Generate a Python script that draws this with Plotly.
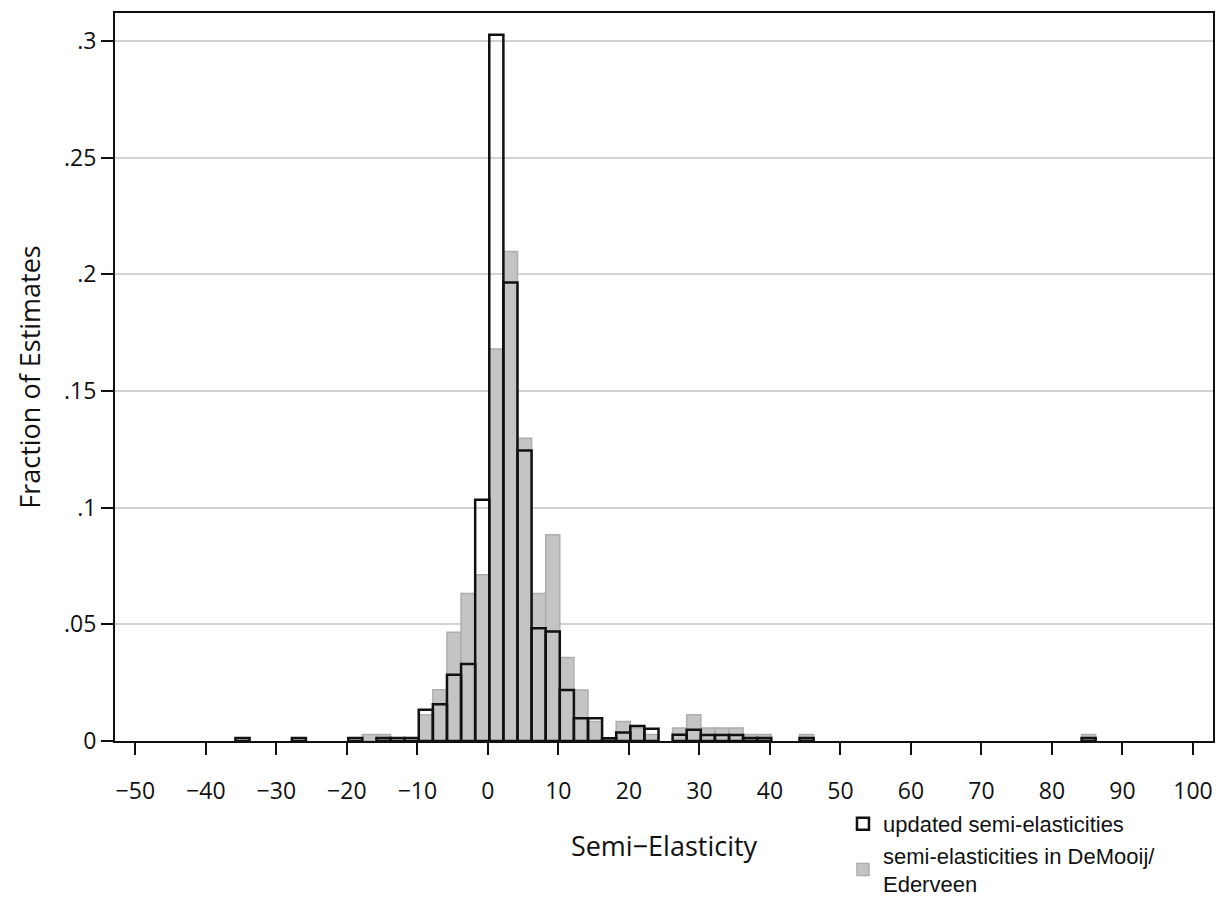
import plotly.graph_objects as go

# Bin centers (bin width 2)
bin_centers = [round(-34.8 + 2 * k, 1) for k in range(61)]

updated = [
    0.0013, 0, 0, 0, 0.0013, 0, 0, 0, 0.0013, 0,
    0.0013, 0.0013, 0.0013, 0.0134, 0.0158, 0.0284, 0.0330, 0.1034, 0.3027, 0.1965,
    0.1245, 0.0483, 0.0469, 0.0219, 0.0097, 0.0097, 0.0012, 0.0036, 0.0064, 0.0052,
    0, 0.0027, 0.0048, 0.0026, 0.0026, 0.0026, 0.0013, 0.0013, 0, 0,
    0.0013, 0, 0, 0, 0, 0, 0, 0, 0, 0,
    0, 0, 0, 0, 0, 0, 0, 0, 0, 0,
    0.0013,
]

demooij = [
    0, 0, 0, 0, 0, 0, 0, 0, 0, 0.0028,
    0.0028, 0, 0, 0.0112, 0.0220, 0.0466, 0.0632, 0.0712, 0.1680, 0.2098,
    0.1298, 0.0632, 0.0884, 0.0358, 0.0219, 0.0084, 0, 0.0084, 0.0056, 0.0028,
    0, 0.0056, 0.0112, 0.0056, 0.0056, 0.0056, 0.0028, 0.0028, 0, 0,
    0.0028, 0, 0, 0, 0, 0, 0, 0, 0, 0,
    0, 0, 0, 0, 0, 0, 0, 0, 0, 0,
    0.0028,
]

x_ticks = list(range(-50, 101, 10))
y_ticks = [0, 0.05, 0.1, 0.15, 0.2, 0.25, 0.3]
y_tick_labels = ["0", ".05", ".1", ".15", ".2", ".25", ".3"]

def nz(v):
    return [None if a == 0 else a for a in v]

fig = go.Figure()
fig.add_trace(go.Bar(
    x=bin_centers, y=nz(demooij), width=2,
    name="semi-elasticities in DeMooij/<br>Ederveen",
    marker=dict(color="#c4c4c4", line=dict(color="#adadad", width=1.5)),
    legendrank=2,
))
fig.add_trace(go.Bar(
    x=bin_centers, y=nz(updated), width=2,
    name="updated semi-elasticities",
    marker=dict(color="rgba(255,255,255,0)", line=dict(color="#111111", width=2.5)),
    legendrank=1,
))

fig.update_layout(
    barmode="overlay",
    width=1216, height=904,
    margin=dict(l=115, r=3, t=13, b=163, autoexpand=False),
    paper_bgcolor="white", plot_bgcolor="white",
    font=dict(family="Open Sans", color="#111111", size=20),
    legend=dict(
        x=0.663, y=-0.085, xanchor="left", yanchor="top",
        font=dict(family="Liberation Sans", size=22, color="#111111"),
        bgcolor="rgba(0,0,0,0)", tracegroupgap=0,
    ),
    xaxis=dict(
        range=[-52.88, 102.84],
        tickmode="array", tickvals=x_ticks,
        ticks="outside", ticklen=12, tickwidth=2, tickcolor="#111111",
        ticklabelstandoff=16, automargin=False,
        showline=True, linewidth=2, linecolor="#111111", mirror=True,
        showgrid=False, zeroline=False,
        tickfont=dict(size=23, family="Open Sans"),
        title=dict(text="Semi\u2212Elasticity", font=dict(size=27, family="Open Sans"), standoff=33),
    ),
    yaxis=dict(
        range=[0, 0.312],
        tickmode="array", tickvals=y_ticks, ticktext=y_tick_labels,
        ticks="outside", ticklen=12, tickwidth=2, tickcolor="#111111",
        automargin=False,
        showline=True, linewidth=2, linecolor="#111111", mirror=True,
        showgrid=True, gridcolor="#d2d2d2", gridwidth=2, zeroline=False,
        tickfont=dict(size=23, family="Open Sans"),
        title=dict(text="Fraction of Estimates", font=dict(size=27, family="Open Sans"), standoff=16),
    ),
)

fig.write_html(
    "out.html",
    config={"displayModeBar": False},
    post_script="document.body.style.margin='0';document.body.style.overflow='hidden';",
)
